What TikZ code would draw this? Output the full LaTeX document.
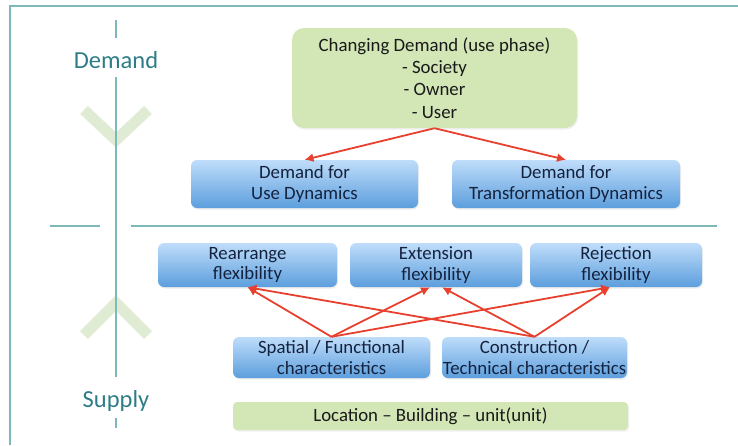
\documentclass[tikz,border=0pt]{standalone}
\usepackage{fontspec}
\setmainfont{Carlito}
\usetikzlibrary{arrows.meta,shadows}
\definecolor{axisteal}{HTML}{7DB9BA}
\definecolor{labelteal}{HTML}{2E7D86}
\definecolor{chevgreen}{HTML}{DFECD3}
\definecolor{boxgreen}{HTML}{D3E6B6}
\definecolor{bluetop}{HTML}{BFDDFA}
\definecolor{bluebot}{HTML}{5C9EDD}
\definecolor{boxtext}{HTML}{14223E}
\definecolor{arrowred}{HTML}{E8402F}
\tikzset{bluebox/.style={rounded corners=6pt, top color=bluetop, bottom color=bluebot, draw=none, text=boxtext, align=center, font=\fontsize{18.8}{20.5}\selectfont, inner sep=0pt, drop shadow={opacity=0.15, shadow xshift=1pt, shadow yshift=-1.5pt}}, greenbox/.style={rounded corners=6pt, fill=boxgreen, draw=none, text=black!90, align=center, font=\fontsize{18.8}{22.3}\selectfont, inner sep=0pt, drop shadow={opacity=0.12, shadow xshift=1pt, shadow yshift=-1.5pt}}, redarrow/.style={arrowred, line width=1.8pt, -{Latex[length=9pt,width=9pt]}}, chevron/.style={chevgreen, line width=11pt, line join=miter}, axis/.style={axisteal, line width=1.3pt}}

\begin{document}
\begin{tikzpicture}[x=1pt, y=-1pt]
  \useasboundingbox (0,0) rectangle (738,445);
  % frame and axis
  \draw[axis] (10,445) -- (10,6) -- (738,6);
  \draw[chevron] (84,110) -- (116,140) -- (148,110);
  \draw[chevron] (84,335) -- (116,303) -- (148,335);
  \draw[axis] (116,20) -- (116,38);
  \draw[axis] (116,77) -- (116,377);
  \draw[axis] (116,418) -- (116,428);
  \draw[axis] (50,226) -- (100,226);
  \draw[axis] (131,226) -- (717,226);
  \node[text=labelteal, font=\fontsize{24.5}{28}\selectfont] (demand) at (116,60) {Demand};
  \node[text=labelteal, font=\fontsize{24.5}{28}\selectfont] (supply) at (116,401) {Supply};

  % demand side
  \node[greenbox, rounded corners=12pt, minimum width=285pt, minimum height=100pt] (cdem) at (434.5,78)
    {Changing Demand (use phase)\\- Society\\- Owner\\- User};
  \node[bluebox, minimum width=227pt, minimum height=48pt] (usedyn) at (304.5,184) {Demand for\\Use Dynamics};
  \node[bluebox, minimum width=228pt, minimum height=48pt] (trdyn) at (566,184) {Demand for\\Transformation Dynamics};
  \draw[redarrow] (cdem.south) -- (usedyn.north);
  \draw[redarrow] (cdem.south) -- (trdyn.north);

  % supply side
  \node[bluebox, minimum width=179pt, minimum height=44pt] (rearr) at (247.5,265) {Rearrange\\flexibility};
  \node[bluebox, minimum width=172pt, minimum height=44pt] (ext) at (436,265) {Extension\\flexibility};
  \node[bluebox, minimum width=172pt, minimum height=44pt] (rej) at (616,265) {Rejection\\flexibility};
  \node[bluebox, minimum width=197pt, minimum height=41pt] (spat) at (331.5,357.5) {Spatial / Functional\\characteristics};
  \node[bluebox, minimum width=185pt, minimum height=41pt] (constr) at (534.5,357.5) {Construction /\\Technical characteristics};
  \node[greenbox, rounded corners=4pt, minimum width=395pt, minimum height=28pt] (loc) at (430.5,416) {Location -- Building -- unit(unit)};
  \foreach \src/\dx in {spat/-6, constr/6} {
    \draw[redarrow] (\src.north) -- (rearr.south);
    \draw[redarrow] (\src.north) -- ([xshift=\dx pt]ext.south);
    \draw[redarrow] (\src.north) -- ([xshift=-6pt]rej.south);
  }
\end{tikzpicture}
\end{document}
